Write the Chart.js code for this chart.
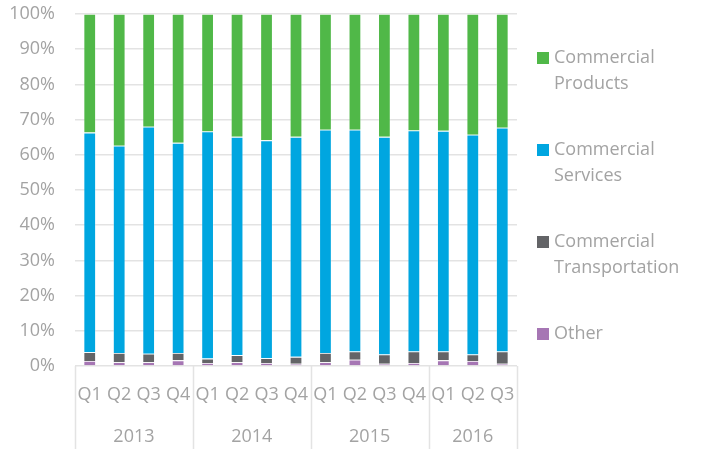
<!DOCTYPE html>
<html>
<head>
<meta charset="utf-8">
<script src="https://cdn.jsdelivr.net/npm/chart.js@4"></script>
<style>
  html, body { margin: 0; padding: 0; background: #fff; }
  #chart { display: block; }
</style>
</head>
<body>
<canvas id="chart" width="702" height="449"></canvas>
<script>
const context = document.getElementById("chart");

const quarters = ["Q1", "Q2", "Q3", "Q4", "Q1", "Q2", "Q3", "Q4", "Q1", "Q2", "Q3", "Q4", "Q1", "Q2", "Q3"];
const years = ["2013", "2014", "2015", "2016"];
const quartersPerYear = [4, 4, 4, 3];

const other = [1.4, 1.1, 1.1, 1.6, 0.85, 1.1, 0.85, 0.65, 1.1, 1.8, 0.65, 0.85, 1.6, 1.4, 0.65];
const transportation = [2.5, 2.6, 2.4, 2.1, 1.25, 2.0, 1.35, 1.95, 2.6, 2.3, 2.65, 3.25, 2.5, 1.9, 3.45];
const services = [62.4, 58.9, 64.5, 59.7, 64.5, 62.0, 61.9, 62.5, 63.4, 63.0, 61.8, 62.8, 62.7, 62.4, 63.6];
const products = [33.7, 37.4, 32.0, 36.6, 33.4, 34.9, 35.9, 34.9, 32.9, 32.9, 34.9, 33.1, 33.2, 34.3, 32.3];

const textColor = "#a3a3a3";
const lineColor = "#e3e3e3";
const fontFamily = "'Open Sans', sans-serif";

// legend, top entry first
const legendItems = [
  { lines: ["Commercial", "Products"], color: "#50b848" },
  { lines: ["Commercial", "Services"], color: "#00a6e0" },
  { lines: ["Commercial", "Transportation"], color: "#636467" },
  { lines: ["Other"], color: "#a676b4" },
];

// year row under the quarter labels, with the group dividers
const yearGroups = {
  id: "yearGroups",
  afterDraw(chart) {
    const { ctx, scales, chartArea } = chart;
    const x = scales.x;
    const bottom = chart.height;
    const edges = [chartArea.left];
    let idx = 0;
    quartersPerYear.forEach((n, i) => {
      idx += n;
      if (i < quartersPerYear.length - 1) {
        edges.push((x.getPixelForValue(idx - 1) + x.getPixelForValue(idx)) / 2);
      } else {
        edges.push(chartArea.right);
      }
    });
    ctx.save();
    ctx.strokeStyle = lineColor;
    ctx.lineWidth = 1.5;
    edges.forEach((ex) => {
      ctx.beginPath();
      ctx.moveTo(Math.round(ex) + 0.5, chartArea.bottom);
      ctx.lineTo(Math.round(ex) + 0.5, bottom);
      ctx.stroke();
    });
    ctx.fillStyle = textColor;
    ctx.font = "18px " + fontFamily;
    ctx.textAlign = "center";
    ctx.textBaseline = "middle";
    years.forEach((y, i) => {
      ctx.fillText(y, (edges[i] + edges[i + 1]) / 2, chartArea.bottom + 71);
    });
    ctx.restore();
  },
};

// legend drawn at the right of the plot
const sideLegend = {
  id: "sideLegend",
  afterDraw(chart) {
    const { ctx, chartArea } = chart;
    ctx.save();
    ctx.font = "18px " + fontFamily;
    ctx.textBaseline = "middle";
    ctx.textAlign = "left";
    let y = chartArea.top + 44;
    legendItems.forEach((item) => {
      ctx.fillStyle = item.color;
      ctx.fillRect(chartArea.right + 20, y - 6, 12, 12);
      ctx.fillStyle = textColor;
      item.lines.forEach((line, j) => {
        ctx.fillText(line, chartArea.right + 37, y + j * 26);
      });
      y += 92;
    });
    ctx.restore();
  },
};

const barStyle = {
  barPercentage: 0.42,
  categoryPercentage: 1,
  borderWidth: 0.8,
  borderColor: "rgba(255,255,255,0.35)",
};

const chart = new Chart(context, {
  type: "bar",
  data: {
    labels: quarters,
    datasets: [
      { label: "Other", data: other, backgroundColor: "#a676b4", ...barStyle },
      { label: "Commercial Transportation", data: transportation, backgroundColor: "#636467", ...barStyle },
      { label: "Commercial Services", data: services, backgroundColor: "#00a6e0", ...barStyle },
      { label: "Commercial Products", data: products, backgroundColor: "#50b848", ...barStyle },
    ],
  },
  options: {
    responsive: false,
    animation: false,
    layout: {
      padding: {
        top: 14,
        right: 185,
        left: 0,
        bottom: 0,
      },
    },
    scales: {
      x: {
        stacked: true,
        grid: {
          display: false,
        },
        border: {
          display: false,
        },
        ticks: {
          color: textColor,
          padding: 10,
          maxRotation: 0,
          autoSkip: false,
          font: {
            family: fontFamily,
            size: 18,
          },
        },
        afterFit: (scale) => {
          scale.height = 83;
          scale.paddingLeft = 0;
          scale.paddingRight = 0;
        },
      },
      y: {
        stacked: true,
        min: 0,
        max: 100,
        grid: {
          color: lineColor,
          lineWidth: 1.5,
          drawTicks: false,
        },
        border: {
          display: false,
        },
        ticks: {
          stepSize: 10,
          padding: 20,
          color: textColor,
          font: {
            family: fontFamily,
            size: 18,
          },
          callback: (v) => v + "%",
        },
        afterFit: (scale) => {
          scale.width = 75;
          scale.paddingTop = 0;
          scale.paddingBottom = 0;
        },
      },
    },
    plugins: {
      legend: {
        display: false,
      },
      tooltip: {
        enabled: false,
      },
    },
  },
  plugins: [yearGroups, sideLegend],
});
</script>
</body>
</html>
